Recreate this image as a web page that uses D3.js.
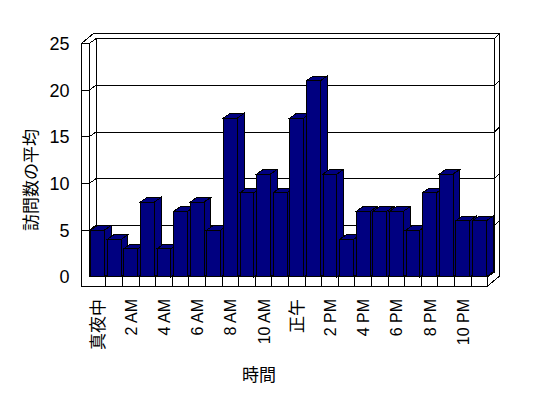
<!DOCTYPE html>
<html lang="ja">

<head>
    <title>訪問数の平均</title>
    <meta charset="utf-8">
    <script src="https://d3js.org/d3.v7.min.js"></script>
    <style>
        body { margin: 0; background: #fff; }
        text { font-family: "Liberation Sans", Arial, "Noto Sans CJK JP", sans-serif; fill: #000; }
    </style>
</head>

<body>
    <div id="chart"></div>
    <script>
        // Data
        const hours = ["0", "1", "2", "3", "4", "5", "6", "7", "8", "9", "10", "11",
            "12", "13", "14", "15", "16", "17", "18", "19", "20", "21", "22", "23"];
        const visits = [5, 4, 3, 8, 3, 7, 8, 5, 17, 9, 11, 9, 17, 21, 11, 4, 7, 7, 7, 5, 9, 11, 6, 6];
        const hourLabels = ["真夜中", "2 AM", "4 AM", "6 AM", "8 AM", "10 AM", "正午", "2 PM", "4 PM", "6 PM", "8 PM", "10 PM"];
        const yTicks = [0, 5, 10, 15, 20, 25];

        // Dimensions
        const width = 548;
        const height = 398;
        const plot = { left: 89.3, right: 487.7, top: 43.4, bottom: 276.7 };
        const wallLeft = 81.5;     // outer face of side wall
        const floorBottom = 286;
        const depth = [6.7, -4.7]; // plot depth offset
        const wall = [5.3, -5.3];  // wall thickness offset
        const back = [depth[0] + wall[0], depth[1] + wall[1]];

        const svg = d3.select("#chart")
            .append("svg")
            .attr("width", width)
            .attr("height", height);

        const x = d3.scaleBand()
            .domain(hours)
            .range([plot.left, plot.right])
            .paddingInner(0.16)
            .paddingOuter(0.08);

        const y = d3.scaleLinear()
            .domain([0, 25])
            .range([plot.bottom, plot.top]);

        const line = d3.line();
        const poly = pts => line(pts) + "Z";

        const g = svg.append("g")
            .attr("shape-rendering", "crispEdges")
            .attr("stroke", "#000")
            .attr("stroke-width", 1);

        const yTop = y(25);
        const y0 = y(0);
        const bx0 = plot.left + depth[0];
        const bx1 = plot.right + depth[0];

        // Back wall face
        g.append("rect")
            .attr("x", bx0)
            .attr("y", yTop + depth[1])
            .attr("width", bx1 - bx0)
            .attr("height", y0 - yTop)
            .attr("fill", "#fff");

        // Top of walls
        g.append("path")
            .attr("d", poly([[wallLeft, yTop], [plot.left, yTop], [bx0, yTop + depth[1]],
                [bx1, yTop + depth[1]], [plot.right + back[0], yTop + back[1]], [wallLeft + back[0], yTop + back[1]]]))
            .attr("fill", "#fff");

        // Right side of back wall and floor
        g.append("path")
            .attr("d", poly([[plot.right, y0], [plot.right, floorBottom], [plot.right + back[0], floorBottom + back[1]],
                [plot.right + back[0], yTop + back[1]], [bx1, yTop + depth[1]], [bx1, y0 + depth[1]]]))
            .attr("fill", "#fff");

        // Inner face of side wall
        g.append("path")
            .attr("d", poly([[plot.left, yTop], [bx0, yTop + depth[1]], [bx0, y0 + depth[1]], [plot.left, y0]]))
            .attr("fill", "#fff");

        // Floor top
        g.append("path")
            .attr("d", poly([[plot.left, y0], [bx0, y0 + depth[1]], [bx1, y0 + depth[1]], [plot.right, y0]]))
            .attr("fill", "#fff");

        // Gridlines
        const grid = yTicks.filter(d => d > 0 && d < 25);
        grid.forEach(v => {
            const yf = y(v);
            const yb = yf + depth[1];
            g.append("path")
                .attr("fill", "none")
                .attr("d", line([[plot.left, yf], [bx0, yb], [bx1, yb], [bx1 + wall[0], yb + wall[1]]]));
        });

        // Front of side wall and floor
        g.append("path")
            .attr("d", poly([[wallLeft, yTop], [plot.left, yTop], [plot.left, y0], [plot.right, y0],
                [plot.right, floorBottom], [wallLeft, floorBottom]]))
            .attr("fill", "#fff");

        // Value ticks on the side wall
        grid.forEach(v => {
            g.append("line")
                .attr("x1", wallLeft).attr("x2", plot.left)
                .attr("y1", y(v)).attr("y2", y(v));
        });

        // Category dividers on the floor
        const gap = (x.step() - x.bandwidth()) / 2;
        hours.slice(1).forEach(h => {
            const xb = x(h) - gap;
            g.append("line")
                .attr("x1", xb).attr("x2", xb)
                .attr("y1", y0).attr("y2", floorBottom);
        });

        // Bars, left to right
        const bars = g.selectAll(".bar")
            .data(visits)
            .enter().append("g")
            .attr("class", "bar")
            .attr("fill", "#000080");

        bars.append("path")
            .attr("d", (d, i) => {
                const x1 = x(hours[i]) + x.bandwidth();
                const t = y(d);
                return poly([[x1, t], [x1 + depth[0], t + depth[1]], [x1 + depth[0], y0 + depth[1]], [x1, y0]]);
            });

        bars.append("path")
            .attr("d", (d, i) => {
                const xa = x(hours[i]);
                const x1 = xa + x.bandwidth();
                const t = y(d);
                return poly([[xa, t], [x1, t], [x1 + depth[0], t + depth[1]], [xa + depth[0], t + depth[1]]]);
            });

        bars.append("rect")
            .attr("x", (d, i) => x(hours[i]))
            .attr("y", d => y(d))
            .attr("width", x.bandwidth())
            .attr("height", d => y0 - y(d));

        // Value axis labels
        svg.selectAll(".ytick")
            .data(yTicks)
            .enter().append("text")
            .attr("class", "ytick")
            .attr("x", 69.5)
            .attr("y", d => y(d))
            .attr("dy", "0.36em")
            .attr("text-anchor", "end")
            .attr("font-size", 18)
            .text(d => d);

        // Category labels (every other hour)
        svg.selectAll(".xtick")
            .data(hourLabels)
            .enter().append("text")
            .attr("class", "xtick")
            .attr("transform", (d, i) => `translate(${x(hours[i * 2]) + x.bandwidth() / 2 + 6},299) rotate(-90)`)
            .attr("text-anchor", "end")
            .attr("font-size", d => /[\u3000-\u9fff]/.test(d) ? 17 : 16)
            .text(d => d);

        // Axis titles
        svg.append("text")
            .attr("x", 259)
            .attr("y", 381)
            .attr("text-anchor", "middle")
            .attr("font-size", 17)
            .text("時間");

        svg.append("text")
            .attr("transform", "translate(37,180) rotate(-90)")
            .attr("text-anchor", "middle")
            .attr("font-size", 17)
            .text("訪問数の平均");
    </script>
</body>

</html>
